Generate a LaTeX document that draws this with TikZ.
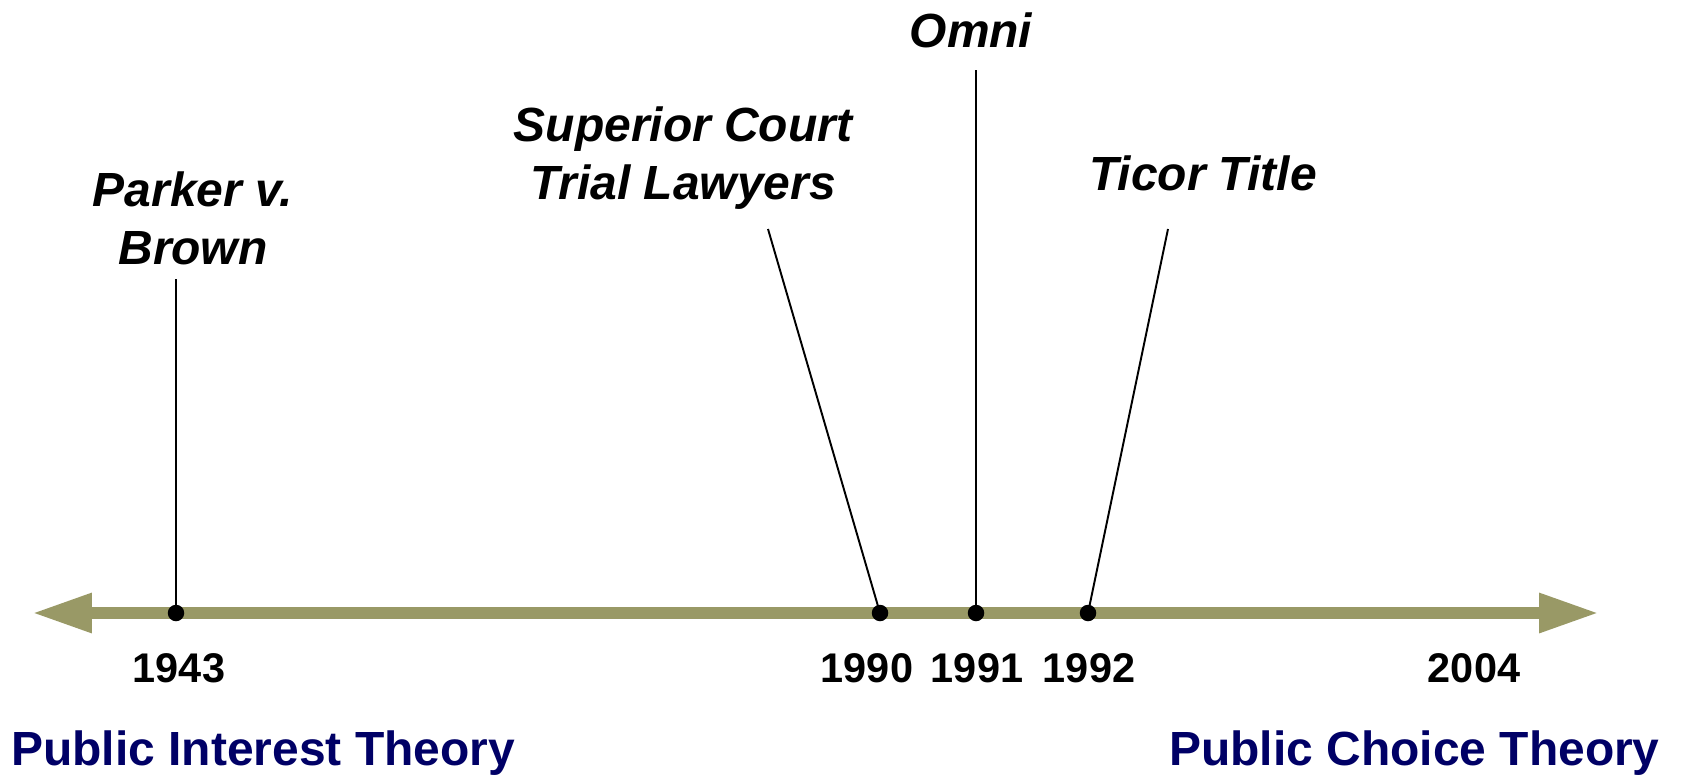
\documentclass[tikz,border=0pt]{standalone}
\usepackage{fontspec}
\setmainfont{Liberation Sans}
\usetikzlibrary{arrows.meta}
\definecolor{axisolive}{HTML}{999966}
\definecolor{theorynavy}{HTML}{000066}
\tikzset{
  caselabel/.style={font=\fontsize{27.3}{33}\selectfont\bfseries\itshape, align=center, inner sep=0pt},
  yearlabel/.style={font=\fontsize{23.6}{28}\selectfont\bfseries, inner sep=0pt},
  theorylabel/.style={font=\fontsize{27.3}{33}\selectfont\bfseries, text=theorynavy, inner sep=0pt},
  pin/.style={line width=1.1pt},
  dot/.style={circle, fill=black, inner sep=0pt, minimum size=0.33cm}
}
\begin{document}
\begin{tikzpicture}[x=0.02cm, y=-0.02cm]
    \useasboundingbox (0,0) rectangle (1683,774);
    % time axis
    \coordinate (west) at (32,613);
    \coordinate (east) at (1599,613);
    \draw[axisolive, line width=0.24cm,
          {Triangle[length=1.2cm,width=0.74cm]}-{Triangle[length=1.2cm,width=0.74cm]}]
          (west) -- (east);
    % events on the axis
    \node[dot] (parker)   at (176,613)  {};
    \node[dot] (superior) at (880,613)  {};
    \node[dot] (omni)     at (976,613)  {};
    \node[dot] (ticor)    at (1088,613) {};
    % years
    \node[yearlabel] (y1943) at (179,668)  {1943};
    \node[yearlabel] (y1990) at (867,668)  {1990};
    \node[yearlabel] (y1991) at (977,668)  {1991};
    \node[yearlabel] (y1992) at (1089,668) {1992};
    \node[yearlabel] (y2004) at (1474,668) {2004};
    % case names
    \node[caselabel] (parkerlbl)   at (193,218) {Parker v.\\Brown};
    \node[caselabel] (superiorlbl) at (683,158) {Superior Court\\Trial Lawyers};
    \node[caselabel] (omnilbl)     at (971,30)  {Omni};
    \node[caselabel] (ticorlbl)    at (1203,173) {Ticor Title};
    \coordinate (parkertop)   at (176,279);
    \coordinate (superiortop) at (768,229);
    \coordinate (omnitop)     at (976,70);
    \coordinate (ticortop)    at (1168,229);
    \draw[pin] (parkertop)   -- (parker.center);
    \draw[pin] (superiortop) -- (superior.center);
    \draw[pin] (omnitop)     -- (omni.center);
    \draw[pin] (ticortop)    -- (ticor.center);
    % the two theories
    \node[theorylabel, anchor=west] (interest) at (11,753)   {Public Interest Theory};
    \node[theorylabel, anchor=east] (choice)   at (1660,753) {Public Choice Theory};
\end{tikzpicture}
\end{document}
